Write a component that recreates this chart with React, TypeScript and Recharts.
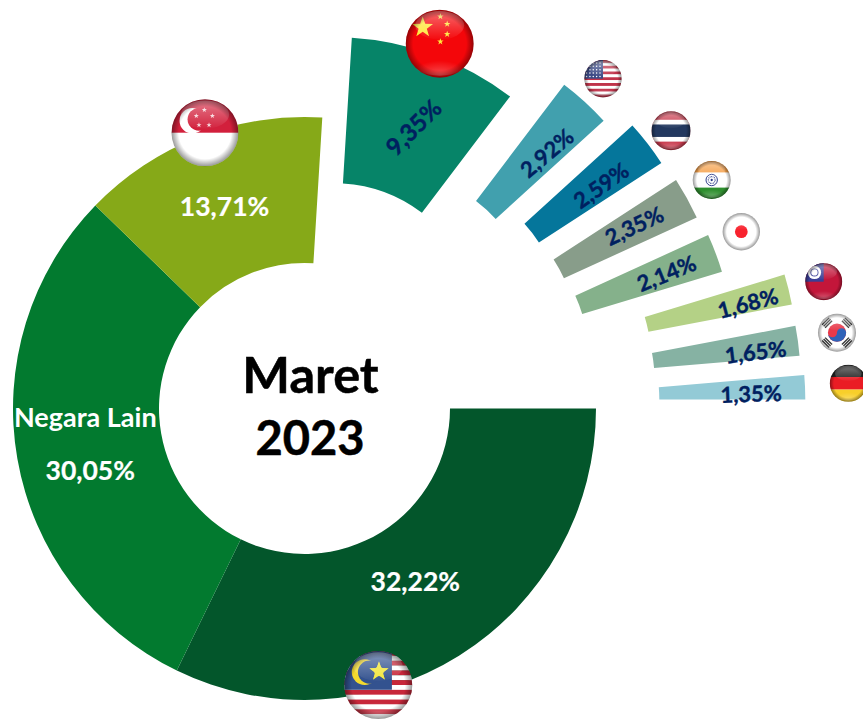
import React from "react";
import { PieChart, Pie, Sector } from "recharts";

const countries = ["Malaysia", "Negara Lain", "Singapura", "Tiongkok", "Amerika Serikat", "Thailand", "India", "Jepang", "Taiwan", "Korea Selatan", "Jerman"];
const shares = [32.22, 30.05, 13.71, 9.35, 2.92, 2.59, 2.35, 2.14, 1.68, 1.65, 1.35];

const sliceColors = ["#03562b", "#027a2f", "#86a918", "#068468", "#41a0ae", "#05769b", "#889d8a", "#85b18b", "#b4d186", "#86b2a3", "#93cad6"];
// how far each slice is pulled out of the ring
const explode = [0, 0, 0, 85, 124, 142, 145, 148, 207, 206.5, 209.5];
const labelNudge = [[-5, -13], [1, 24], [-1, 1], [3, 3], [11, -3], [11, -3], [11, -8], [19, -6], [30, -4], [30, 1], [19, 3]];
const labelAngle = [0, 0, 0, -45, -40, -35, -25, -22, -15, -7, -2];

const CX = 304.5;
const CY = 408.5;
const INNER = 145.5;
const OUTER = 291.5;
const RAD = Math.PI / 180;
const FONT = "Lato, Carlito, sans-serif";

const data = countries.map((name, i) => ({ name, value: shares[i] }));
const pct = (v: number) => v.toFixed(2).replace(".", ",") + "%";

function Slice(props: any) {
  const { cx, cy, midAngle, index, value } = props;
  const off = explode[index];
  const dx = Math.cos(midAngle * RAD);
  const dy = -Math.sin(midAngle * RAD);
  const sx = cx + dx * off;
  const sy = cy + dy * off;
  const mid = (INNER + OUTER) / 2;
  const lx = sx + dx * mid + labelNudge[index][0];
  const ly = sy + dy * mid + labelNudge[index][1];
  const light = index < 3;
  const color = light ? "#fff" : "#002060";
  return (
    <g>
      <Sector {...props} cx={sx} cy={sy} fill={sliceColors[index]} stroke="none" />
      {index === 1 && (
        <text x={sx + dx * mid - 4} y={sy + dy * mid - 30} textAnchor="middle" dominantBaseline="central" fill="#fff" fontFamily={FONT} fontWeight={700} fontSize={27}>
          Negara Lain
        </text>
      )}
      <text
        x={lx}
        y={ly}
        textAnchor="middle"
        dominantBaseline="central"
        transform={`rotate(${labelAngle[index]} ${lx} ${ly})`}
        fill={color}
        stroke={color}
        strokeWidth={light ? 0.2 : 0.4}
        fontFamily={FONT}
        fontWeight={700}
        fontSize={light ? 26.5 : index === 3 ? 24 : 22}
      >
        {pct(value)}
      </text>
    </g>
  );
}

function star(x: number, y: number, r: number, fill: string) {
  const pts: string[] = [];
  for (let i = 0; i < 10; i++) {
    const a = (-90 + i * 36) * RAD;
    const q = i % 2 ? r * 0.4 : r;
    pts.push(`${x + q * Math.cos(a)},${y + q * Math.sin(a)}`);
  }
  return <polygon key={`${x}-${y}`} points={pts.join(" ")} fill={fill} />;
}

function stripes(n: number, a: string, b: string) {
  const h = 100 / n;
  return Array.from({ length: n }, (_, i) => <rect key={i} x={-50} y={-50 + i * h} width={100} height={h + 0.3} fill={i % 2 ? b : a} />);
}

const flagArt: Record<string, React.ReactNode> = {
  china: (
    <>
      <rect x={-50} y={-50} width={100} height={100} fill="#f4060a" />
      {star(-25, -24, 16, "#ffe83a")}
      {star(1, -40, 5, "#f7d84a")}
      {star(11, -29, 5, "#ffe83a")}
      {star(11, -14, 5, "#ffe83a")}
      {star(1, -3, 5, "#ffe83a")}
    </>
  ),
  usa: (
    <>
      {stripes(13, "#c0334a", "#fff")}
      <rect x={-50} y={-50} width={50} height={50} fill="#3c4a86" />
      {[-42, -33, -24, -15, -6].map((y) => [-44, -35, -26, -17, -8].map((x) => <circle key={`${x}${y}`} cx={x} cy={y} r={2} fill="#fff" />))}
    </>
  ),
  thailand: (
    <>
      <rect x={-50} y={-50} width={100} height={100} fill="#c8394c" />
      <rect x={-50} y={-28} width={100} height={56} fill="#fff" />
      <rect x={-50} y={-16} width={100} height={32} fill="#23385f" />
    </>
  ),
  india: (
    <>
      <rect x={-50} y={-50} width={100} height={100} fill="#fff" />
      <rect x={-50} y={-50} width={100} height={30} fill="#f5a04a" />
      <rect x={-50} y={20} width={100} height={30} fill="#2f8f2f" />
      <circle r={15} fill="none" stroke="#2a3a88" strokeWidth={2.5} />
      <circle r={9} fill="none" stroke="#2a3a88" strokeWidth={3} strokeDasharray="2 2" />
      <circle r={3} fill="#2a3a88" />
    </>
  ),
  japan: (
    <>
      <rect x={-50} y={-50} width={100} height={100} fill="#fff" />
      <circle r={17} fill="#f8232e" />
    </>
  ),
  taiwan: (
    <>
      <rect x={-50} y={-50} width={100} height={100} fill="#c3163a" />
      <rect x={-50} y={-50} width={50} height={50} fill="#3a3f96" />
      <circle cx={-25} cy={-25} r={18} fill="#fff" />
      <circle cx={-25} cy={-25} r={11} fill="#3a3f96" />
      <circle cx={-25} cy={-25} r={8.5} fill="#fff" />
    </>
  ),
  korea: (
    <>
      <rect x={-50} y={-50} width={100} height={100} fill="#fff" />
      <circle r={24} fill="#e8394a" />
      <path d="M-24 0A24 24 0 0 0 24 0A12 12 0 0 0 0 0A12 12 0 0 1 -24 0Z" fill="#2f62b8" />
      {[-45, 45, 135, 225].map((a) => (
        <g key={a} transform={`rotate(${a}) translate(0 -37)`}>
          <rect x={-13} y={-7} width={26} height={3.5} fill="#333" />
          <rect x={-13} y={-1.5} width={26} height={3.5} fill="#333" />
          <rect x={-13} y={4} width={26} height={3.5} fill="#333" />
        </g>
      ))}
    </>
  ),
  germany: (
    <>
      <rect x={-50} y={-50} width={100} height={34} fill="#222" />
      <rect x={-50} y={-17} width={100} height={34} fill="#ea1c24" />
      <rect x={-50} y={17} width={100} height={33} fill="#f8cf2a" />
    </>
  ),
  singapore: (
    <>
      <rect x={-50} y={-50} width={100} height={100} fill="#fff" />
      <rect x={-50} y={-50} width={100} height={50} fill="#d2203c" />
      <circle cx={-19} cy={-18} r={19} fill="#fff" />
      <circle cx={-9} cy={-20} r={17} fill="#d2203c" />
      {star(-1, -34, 4, "#f6d5da")}
      {star(11, -25, 4, "#f6d5da")}
      {star(-13, -25, 4, "#f6d5da")}
      {star(-9, -11.5, 4, "#f6d5da")}
      {star(6, -11.5, 4, "#f6d5da")}
    </>
  ),
  malaysia: (
    <>
      {stripes(14, "#c7273a", "#fff")}
      <rect x={-50} y={-50} width={70} height={57} fill="#33528f" />
      <circle cx={-20} cy={-19} r={19} fill="#f3d92e" />
      <circle cx={-13} cy={-19} r={17} fill="#33528f" />
      {star(1, -20, 15, "#f3e63a")}
      {star(1, -20, 14, "#f3e63a")}
      <circle cx={1} cy={-20} r={7} fill="#f3e63a" />
    </>
  ),
};

const flagSpots: [string, number, number, number][] = [
  ["singapore", 205, 132.7, 33.5],
  ["china", 439.7, 43.7, 34],
  ["malaysia", 378.3, 685, 34],
  ["usa", 603, 78.7, 18.7],
  ["thailand", 671, 130.7, 19.5],
  ["india", 711.7, 180, 19],
  ["japan", 741.3, 231.7, 18.7],
  ["taiwan", 823.7, 281.7, 18.5],
  ["korea", 837, 332.7, 19],
  ["germany", 848.3, 383.3, 18.5],
];

function Flags() {
  return (
    <svg width={863} height={719} style={{ position: "absolute", left: 0, top: 0, pointerEvents: "none" }}>
      <defs>
        <clipPath id="ball">
          <circle r={50} />
        </clipPath>
        <radialGradient id="rim">
          <stop offset="78%" stopColor="#000" stopOpacity={0} />
          <stop offset="100%" stopColor="#000" stopOpacity={0.4} />
        </radialGradient>
        <linearGradient id="gloss" x1="0" y1="0" x2="0" y2="1">
          <stop offset="0%" stopColor="#fff" stopOpacity={0.4} />
          <stop offset="100%" stopColor="#fff" stopOpacity={0.02} />
        </linearGradient>
        <radialGradient id="glow" cy="1">
          <stop offset="0%" stopColor="#fff" stopOpacity={0.3} />
          <stop offset="100%" stopColor="#fff" stopOpacity={0} />
        </radialGradient>
      </defs>
      {flagSpots.map(([id, x, y, r]) => (
        <g key={id} transform={`translate(${x} ${y}) scale(${r / 50})`}>
          <g clipPath="url(#ball)">{flagArt[id]}</g>
          <ellipse cy={-27} rx={36} ry={21} fill="url(#gloss)" />
          <ellipse cy={25} rx={42} ry={22} fill="url(#glow)" />
          <circle r={50} fill="url(#rim)" />
        </g>
      ))}
      <text x={310.5} y={373.5} textAnchor="middle" dominantBaseline="central" fontFamily={FONT} fontWeight={700} fontSize={50.5} fill="#000" stroke="#000" strokeWidth={0.5}>
        Maret
      </text>
      <text x={310} y={437} textAnchor="middle" dominantBaseline="central" fontFamily={FONT} fontWeight={700} fontSize={47} fill="#000" stroke="#000" strokeWidth={0.5}>
        2023
      </text>
    </svg>
  );
}

export default function App() {
  return (
    <div style={{ position: "absolute", left: 0, top: 0, width: 863, height: 719, overflow: "hidden", background: "#fff" }}>
      <PieChart width={863} height={719} margin={{ top: 0, right: 0, bottom: 0, left: 0 }}>
        <Pie
          data={data}
          dataKey="value"
          nameKey="name"
          cx={CX}
          cy={CY}
          innerRadius={INNER}
          outerRadius={OUTER}
          startAngle={0}
          endAngle={-360}
          stroke="none"
          shape={Slice}
          isAnimationActive={false}
        />
      </PieChart>
      <Flags />
    </div>
  );
}
